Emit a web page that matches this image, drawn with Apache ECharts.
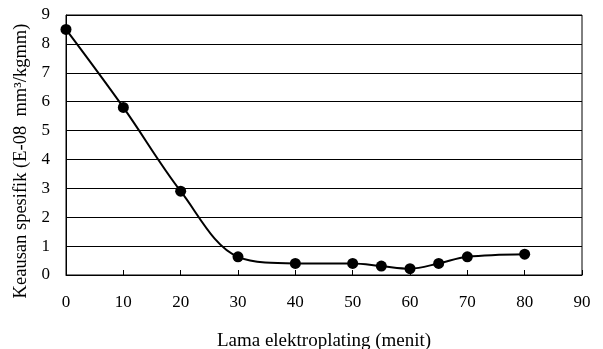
<!DOCTYPE html>
<html>
<head>
<meta charset="utf-8">
<script src="https://cdn.jsdelivr.net/npm/echarts@6/dist/echarts.min.js"></script>
<style>
html, body { margin: 0; padding: 0; background: #fff; }
#chart { width: 603px; height: 349px; }
</style>
</head>
<body>
<div id="chart"></div>
<script>
var waktu = [0, 10, 20, 30, 40, 50, 55, 60, 65, 70, 80];
var keausan = [8.5, 5.8, 2.9, 0.63, 0.4, 0.4, 0.31, 0.22, 0.4, 0.63, 0.72];
var xMax = 90;
var yMax = 9;

var points = waktu.map(function (w, i) { return [w, keausan[i]]; });

var myChart = echarts.init(document.getElementById('chart'));

myChart.setOption({
    animation: false,
    textStyle: { fontFamily: 'Liberation Serif', color: '#000' },
    grid: {
        left: 66,
        right: 21,
        top: 15,
        bottom: 74,
        outerBoundsMode: 'none',
        containLabel: false,
        show: true,
        borderColor: '#000',
        borderWidth: 1
    },
    xAxis: {
        type: 'value',
        min: 0,
        max: xMax,
        interval: 10,
        name: 'Lama elektroplating (menit)',
        nameLocation: 'middle',
        nameGap: 57,
        nameTextStyle: { fontSize: 19, color: '#000', fontFamily: 'Liberation Serif' },
        axisLine: { lineStyle: { color: '#000', width: 1 } },
        axisTick: { inside: true, length: 5, lineStyle: { color: '#000' } },
        axisLabel: { fontSize: 17, color: '#000', margin: 19, fontFamily: 'Liberation Serif' },
        splitLine: { show: false }
    },
    yAxis: {
        type: 'value',
        min: 0,
        max: yMax,
        interval: 1,
        name: 'Keausan spesifik (E-08  mm³/kgmm)',
        nameLocation: 'middle',
        nameGap: 35,
        nameTextStyle: {
            fontSize: 18.5,
            color: '#000',
            fontFamily: 'Liberation Serif',
            padding: [0, 32, 0, 0]
        },
        axisLine: { lineStyle: { color: '#000', width: 1 } },
        axisTick: { show: false },
        axisLabel: { fontSize: 17, color: '#000', margin: 16, fontFamily: 'Liberation Serif' },
        splitLine: { show: true, lineStyle: { color: '#000', width: 1 } }
    },
    series: [{
        type: 'line',
        data: points,
        smooth: 0.35,
        symbol: 'circle',
        symbolSize: 11,
        itemStyle: { color: '#000' },
        lineStyle: { color: '#000', width: 2 }
    }]
});
</script>
</body>
</html>
